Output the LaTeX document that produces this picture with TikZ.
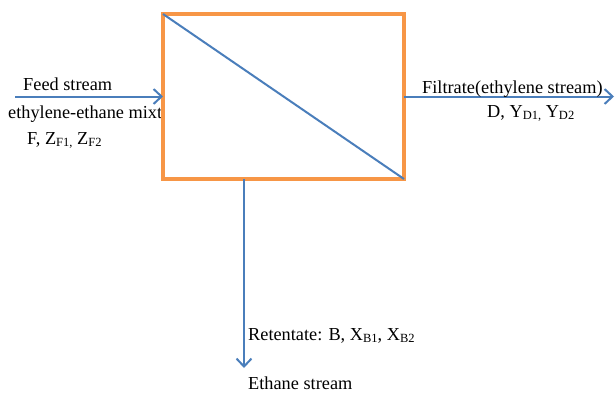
\documentclass[tikz,border=0pt]{standalone}
\usepackage{fontspec}
\setmainfont{Liberation Serif}
\usetikzlibrary{arrows.meta}
\definecolor{boxorange}{HTML}{F79646}
\definecolor{flowblue}{HTML}{4A7EBB}
\newcommand\sbs[1]{\raisebox{-0.25ex}{\fontsize{12.5}{12.5}\selectfont #1}}
\tikzset{
  membrane/.style={draw=boxorange, line width=4pt, fill=white, outer sep=0pt, inner sep=0pt, minimum width=241pt, minimum height=165pt},
  flow/.style={draw=flowblue, line width=2pt, -{Straight Barb[length=8pt,width=15pt,line width=2pt]}},
  divider/.style={draw=flowblue, line width=2pt},
  lbl/.style={font=\fontsize{18.3}{22}\selectfont, inner sep=0pt, anchor=base west, text=black}
}
\begin{document}
\begin{tikzpicture}[x=1pt,y=-1pt]
\useasboundingbox (0,0) rectangle (615,394);
% labels on the left (drawn first, the box covers their end)
\node[lbl] (feedlbl) at (23,90.5) {Feed stream};
\node[lbl] (mixlbl) at (8,118) {ethylene-ethane mixture};
\node[lbl] (flbl) at (27,144.5) {F, Z\sbs{F1,} Z\sbs{F2}};
% membrane box
\node[membrane] (box) at (283.5,96.5) {};
\draw[divider] (box.north west) -- (box.south east);
% feed
\coordinate (feedstart) at (15,96.5);
\draw[flow] (feedstart) -- (box.west);
% filtrate
\coordinate (filtend) at (614,96.5);
\draw[flow] (box.east) -- (filtend);
\node[lbl] (filtlbl) at (422,93) {Filtrate(ethylene stream)};
\node[lbl] (dlbl) at (487,117.5) {D, Y\sbs{D1,} Y\sbs{D2}};
% retentate
\coordinate (rettop) at (244,179);
\coordinate (retend) at (244,368);
\draw[flow] (rettop) -- (retend);
\node[lbl] (retlbl) at (248,340) {Retentate: B, X\sbs{B1}, X\sbs{B2}};
\node[lbl] (ethlbl) at (248,389.5) {Ethane stream};
\end{tikzpicture}
\end{document}
